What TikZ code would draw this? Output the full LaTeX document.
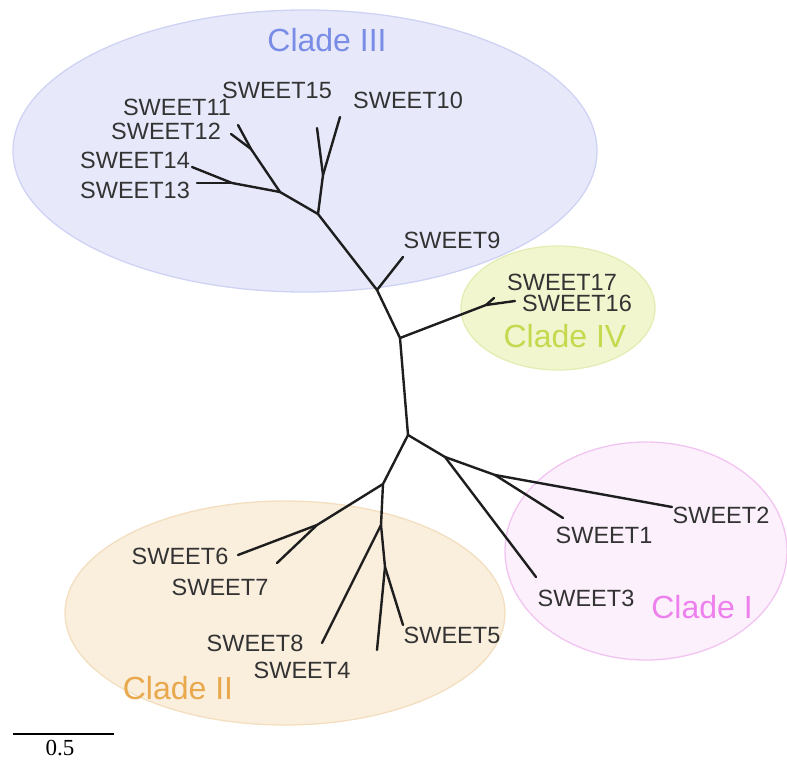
\documentclass[tikz,border=0pt]{standalone}
\usepackage{fontspec}
\setmainfont{Liberation Sans}
\newfontfamily\serifscale{Liberation Serif}
\definecolor{c3fill}{HTML}{E7E9FA}\definecolor{c3line}{HTML}{CFD3F3}\definecolor{c3text}{HTML}{7A8DE6}
\definecolor{c4fill}{HTML}{F1F6CF}\definecolor{c4line}{HTML}{E4EDB4}\definecolor{c4text}{HTML}{C6D84E}
\definecolor{c1fill}{HTML}{FBF0FB}\definecolor{c1line}{HTML}{F2C4F2}\definecolor{c1text}{HTML}{EE80EE}
\definecolor{c2fill}{HTML}{FAEEDD}\definecolor{c2line}{HTML}{F3DFC0}\definecolor{c2text}{HTML}{E9A84C}
\definecolor{labtext}{HTML}{333333}
\definecolor{branch}{HTML}{1E1E1E}
\begin{document}
\begin{tikzpicture}[x=1pt,y=-1pt,
  clade/.style={line width=1.3pt},
  br/.style={draw=branch,line width=2.4pt,line cap=round,line join=round},
  lab/.style={inner sep=0pt,font=\fontsize{23.5}{26}\selectfont,text=labtext},
  cladelab/.style={inner sep=0pt,font=\fontsize{32}{36}\selectfont}]
\useasboundingbox (0,0) rectangle (787,760);
% clade ellipses
\draw[clade,fill=c3fill,draw=c3line] (305,151) ellipse [x radius=292,y radius=141];
\draw[clade,fill=c4fill,draw=c4line] (558,308) ellipse [x radius=97,y radius=62];
\draw[clade,fill=c1fill,draw=c1line] (646,551) ellipse [x radius=141,y radius=109];
\draw[clade,fill=c2fill,draw=c2line] (285,613) ellipse [x radius=220,y radius=112];
% internal nodes
\coordinate (n1) at (408,435);
\coordinate (n2) at (400,338);
\coordinate (n3) at (377,290);
\coordinate (n4) at (318,214);
\coordinate (n5) at (280,192);
\coordinate (n6) at (251,149);
\coordinate (n7) at (232,183);
\coordinate (n8) at (323,175);
\coordinate (n9) at (486,305);
\coordinate (n10) at (445,457);
\coordinate (n11) at (495,475);
\coordinate (n12) at (383,484);
\coordinate (n13) at (317,525);
\coordinate (n14) at (381,525);
\coordinate (n15) at (385,567);
% tips
\coordinate (t11) at (238,125);
\coordinate (t12) at (231,134);
\coordinate (t14) at (192,167);
\coordinate (t13) at (197,183);
\coordinate (t15) at (317,128);
\coordinate (t10) at (340,117);
\coordinate (t9) at (403,257);
\coordinate (t17) at (494,298);
\coordinate (t16) at (515,301);
\coordinate (t3) at (536,577);
\coordinate (t1) at (563,518);
\coordinate (t2) at (672,507);
\coordinate (t6) at (238,555);
\coordinate (t7) at (277,563);
\coordinate (t8) at (322,643);
\coordinate (t4) at (377,650);
\coordinate (t5) at (403,625);
% branches
\draw[br] (n1) -- (n2) -- (n3) -- (n4) -- (n5) -- (n6) -- (t11);
\draw[br] (n6) -- (t12);
\draw[br] (n5) -- (n7) -- (t14);
\draw[br] (n7) -- (t13);
\draw[br] (n4) -- (n8) -- (t15);
\draw[br] (n8) -- (t10);
\draw[br] (n3) -- (t9);
\draw[br] (n2) -- (n9) -- (t17);
\draw[br] (n9) -- (t16);
\draw[br] (n1) -- (n10) -- (t3);
\draw[br] (n10) -- (n11) -- (t1);
\draw[br] (n11) -- (t2);
\draw[br] (n1) -- (n12) -- (n13) -- (t6);
\draw[br] (n13) -- (t7);
\draw[br] (n12) -- (n14) -- (t8);
\draw[br] (n14) -- (n15) -- (t4);
\draw[br] (n15) -- (t5);
% labels
\node[lab] (l15) at (277,90.5) {SWEET15};
\node[lab] (l11) at (177,107) {SWEET11};
\node[lab] (l12) at (166,131) {SWEET12};
\node[lab] (l14) at (135,160) {SWEET14};
\node[lab] (l13) at (135,190) {SWEET13};
\node[lab] (l10) at (408,100.5) {SWEET10};
\node[lab] (l9) at (452,240) {SWEET9};
\node[lab] (l17) at (562,282) {SWEET17};
\node[lab] (l16) at (577,303) {SWEET16};
\node[lab] (l2) at (721,515) {SWEET2};
\node[lab] (l1) at (604,535) {SWEET1};
\node[lab] (l3) at (586,598) {SWEET3};
\node[lab] (l6) at (180,556) {SWEET6};
\node[lab] (l7) at (220,587) {SWEET7};
\node[lab] (l8) at (255,643) {SWEET8};
\node[lab] (l4) at (302,670) {SWEET4};
\node[lab] (l5) at (452,635) {SWEET5};
% clade labels
\node[cladelab,text=c3text] (cl3) at (327,40) {Clade III};
\node[cladelab,text=c4text] (cl4) at (565,336) {Clade IV};
\node[cladelab,text=c1text] (cl1) at (702,607) {Clade I};
\node[cladelab,text=c2text] (cl2) at (178,688) {Clade II};
% scale bar
\coordinate (s0) at (13,734);
\coordinate (s1) at (114,734);
\draw[draw=black,line width=2.4pt] (s0) -- (s1);
\node[inner sep=0pt,font=\serifscale\fontsize{23}{26}\selectfont] (sl) at (60,748) {0.5};
\end{tikzpicture}
\end{document}
